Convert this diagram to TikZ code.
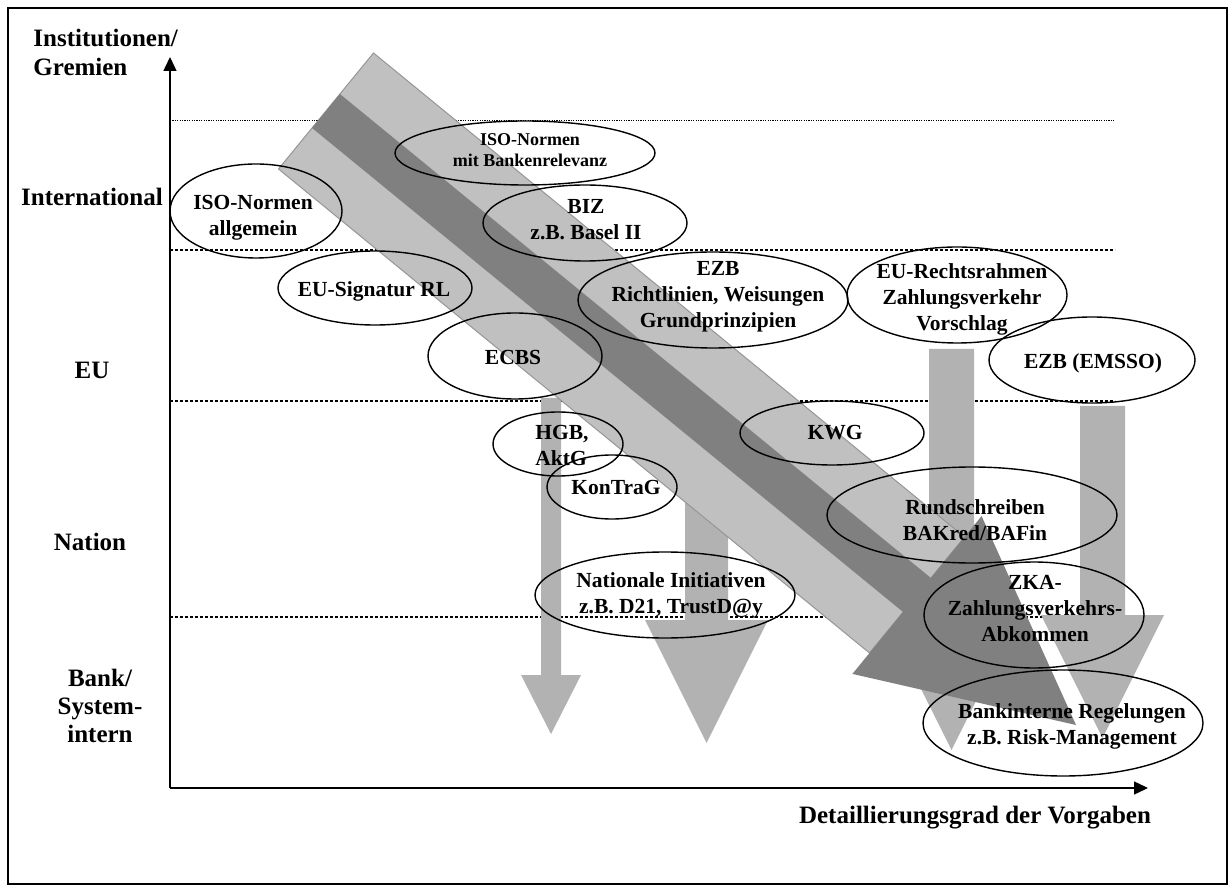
\documentclass[tikz,border=0pt]{standalone}
\usepackage{fontspec}
\setmainfont{Liberation Serif}
\usetikzlibrary{shapes.geometric,arrows.meta}
\definecolor{bandlight}{HTML}{C0C0C0}
\definecolor{bandedge}{HTML}{969696}
\definecolor{banddark}{HTML}{808080}
\definecolor{vertgray}{HTML}{B2B2B2}

\begin{document}
\begin{tikzpicture}[x=0.5pt,y=-0.5pt,
  ell/.style={ellipse,draw=black,line width=0.7pt,inner sep=0pt},
  etext/.style={font=\fontsize{10.75}{13}\selectfont\bfseries,align=center,inner sep=0pt},
  esmall/.style={font=\fontsize{9}{10.5}\selectfont\bfseries,align=center,inner sep=0pt},
  axlabel/.style={font=\fontsize{12.5}{14.5}\selectfont\bfseries,align=center,inner sep=0pt},
  levelline/.style={line width=1pt,dash pattern=on 1.6pt off 0.9pt},
  thinline/.style={line width=0.5pt,dash pattern=on 0.6pt off 0.6pt},
  axis/.style={line width=0.7pt,-{Triangle[length=7pt,width=6.5pt]}},
  downarrow/.style={fill=vertgray,draw=none}
]
\useasboundingbox (0,0) rectangle (1229,886);

% frame
\draw[line width=0.8pt] (8,8) rectangle (1227,884);

% level separators
\draw[thinline] (170,121) -- (1115,121);
\draw[levelline] (170,250) -- (1115,250);
\draw[levelline] (170,401) -- (1115,401);
\draw[levelline] (170,617) -- (1115,617);

% vertical flow arrows
\fill[downarrow] (541,398) -- (561,398) -- (561,675) -- (581,675) -- (551,734) -- (521,675) -- (541,675) -- cycle;
\fill[downarrow] (685,503) -- (728,503) -- (728,620) -- (768,620) -- (706.5,743) -- (645,620) -- (685,620) -- cycle;
\fill[downarrow] (929,349) -- (974,349) -- (974,627) -- (1013,627) -- (951.5,750) -- (890,627) -- (929,627) -- cycle;
\fill[downarrow] (1080,406) -- (1125,406) -- (1125,615) -- (1164,615) -- (1102.5,738) -- (1041,615) -- (1080,615) -- cycle;

% broad diagonal band
\filldraw[fill=bandlight,draw=bandedge,line width=0.5pt]
  (373.5,53) -- (964.5,537) -- (869.5,653) -- (278.5,169) -- cycle;
% dark shaft and head
\fill[banddark] (339.9,94) -- (930.9,578) -- (903.1,612) -- (312.1,128) -- cycle;
\fill[banddark] (981.6,516.1) -- (1076,725) -- (852.4,673.9) -- cycle;

% axes
\coordinate (origin) at (170,788);
\coordinate (ytip) at (170,57);
\coordinate (xtip) at (1148,788);
\draw[axis] (origin) -- (ytip);
\draw[axis] (origin) -- (xtip);

% axis labels
\node[axlabel,align=left,anchor=west] (ylab) at (33,52) {Institutionen/\\Gremien};
\node[axlabel] (lint) at (92,197) {International};
\node[axlabel] (leu) at (92,370) {EU};
\node[axlabel] (lnat) at (90,542) {Nation};
\node[axlabel,font=\fontsize{12.5}{13.8}\selectfont\bfseries] (lbank) at (100,706) {Bank/\\System-\\intern};
\node[axlabel] (xlab) at (975,818) {Detaillierungsgrad der Vorgaben};

% regulation ellipses
\node[ell,minimum width=86pt,minimum height=47pt] (isoa) at (256,211) {};
\node[ell,minimum width=130pt,minimum height=32pt] (isob) at (525,153) {};
\node[ell,minimum width=102pt,minimum height=38pt] (biz) at (585,223) {};
\node[ell,minimum width=97pt,minimum height=37pt] (sig) at (375,288) {};
\node[ell,minimum width=87pt,minimum height=43pt] (ecbs) at (515,356) {};
\node[ell,minimum width=135pt,minimum height=48pt] (ezb) at (713,300) {};
\node[ell,minimum width=110pt,minimum height=48pt] (eur) at (957,295) {};
\node[ell,minimum width=103pt,minimum height=43pt] (emsso) at (1092,360) {};
\node[ell,minimum width=65pt,minimum height=32pt] (hgb) at (558,444) {};
\node[ell,minimum width=65pt,minimum height=32pt] (kon) at (612,487) {};
\node[ell,minimum width=92pt,minimum height=32pt] (kwg) at (832,433) {};
\node[ell,minimum width=145pt,minimum height=48pt] (rund) at (972,515) {};
\node[ell,minimum width=130pt,minimum height=43pt] (nat) at (665,595) {};
\node[ell,minimum width=110pt,minimum height=53pt] (zka) at (1034,615) {};
\node[ell,minimum width=140pt,minimum height=53pt] (bank) at (1063,723) {};

% ellipse texts
\node[etext] (tisoa) at (253,218) {ISO-Normen\\allgemein};
\node[esmall] (tisob) at (530,150) {ISO-Normen\\mit Bankenrelevanz};
\node[etext] (tbiz) at (586,220) {BIZ\\z.B. Basel II};
\node[etext] (tsig) at (374,291) {EU-Signatur RL};
\node[etext] (tecbs) at (513,357) {ECBS};
\node[etext] (tezb) at (718,297) {EZB\\Richtlinien, Weisungen\\Grundprinzipien};
\node[etext] (teur) at (962,299) {EU-Rechtsrahmen\\Zahlungsverkehr\\Vorschlag};
\node[etext] (temsso) at (1093,363) {EZB (EMSSO)};
\node[etext,align=left,anchor=west] (thgb) at (535,445) {HGB,\\AktG};
\node[etext] (tkon) at (616,487) {KonTraG};
\node[etext] (tkwg) at (835,433) {KWG};
\node[etext] (trund) at (975,520) {Rundschreiben\\BAKred/BAFin};
\node[etext] (tnat) at (671,595) {Nationale Initiativen\\z.B. D21, TrustD@y};
\node[etext] (tzka) at (1035,609) {ZKA-\\Zahlungsverkehrs-\\Abkommen};
\node[etext] (tbank) at (1072,726) {Bankinterne Regelungen\\z.B. Risk-Management};
\end{tikzpicture}
\end{document}
